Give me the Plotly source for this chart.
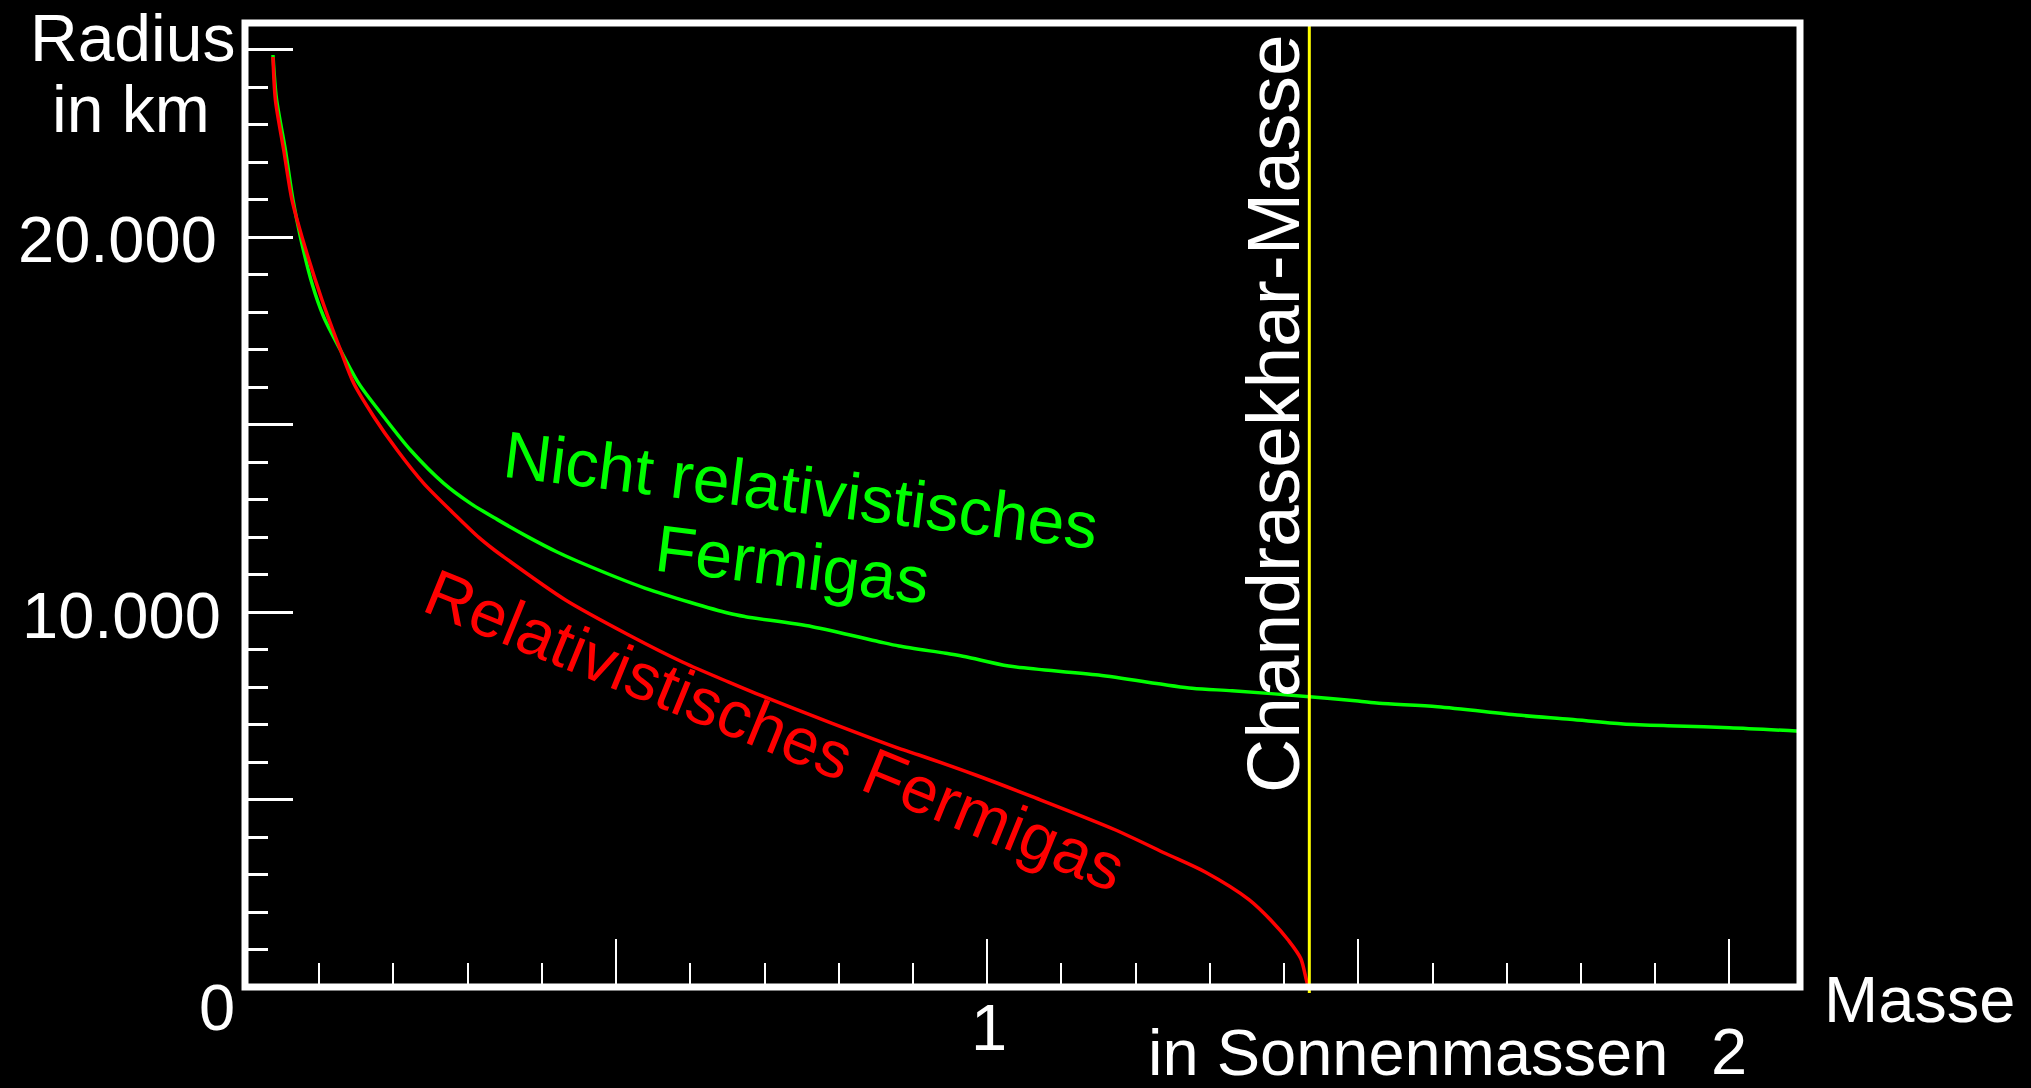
import plotly.graph_objects as go

# White-dwarf mass-radius relation: mass in solar masses, radius in km
nonrel_mass = [0.0377, 0.0423, 0.0544, 0.0647, 0.0747, 0.0903, 0.1061, 0.1286, 0.1532,
               0.1869, 0.2229, 0.2678, 0.3038, 0.3396, 0.3824, 0.4205, 0.4497, 0.5396,
               0.6519, 0.6744, 0.7642, 0.854, 0.881, 0.944, 0.971, 1.029, 1.150, 1.276,
               1.330, 1.434, 1.4996, 1.528, 1.6067, 1.714, 1.7853, 1.857, 1.928, 2.0, 2.095]
nonrel_radius = [24853, 23700, 22320, 20987, 20000, 18760, 17867, 16987, 16098,
                 15208, 14320, 13431, 12898, 12470, 11990, 11600, 11340, 10632,
                 9965, 9875, 9608, 9208, 9093, 8898, 8808, 8560, 8320, 7965,
                 7902, 7742, 7627, 7565, 7475, 7253, 7138, 7013, 6960, 6915, 6820]

rel_mass = [0.0377, 0.041, 0.0522, 0.0633, 0.0768, 0.1038, 0.1286, 0.1465, 0.1735,
            0.2049, 0.2408, 0.2857, 0.315, 0.3329, 0.3464, 0.4318, 0.5171, 0.59,
            0.6519, 0.6879, 0.7911, 0.881, 0.908, 0.9844, 1.0607, 1.173, 1.2404,
            1.2943, 1.3527, 1.3841, 1.4055, 1.4225, 1.4313, 1.434]
rel_radius = [24800, 23653, 22320, 20987, 20000, 18320, 16987, 16098, 15208,
              14320, 13431, 12542, 11990, 11700, 11500, 10320, 9387, 8660,
              8130, 7832, 7032, 6365, 6187, 5653, 5075, 4187, 3560,
              3060, 2330, 1742, 1253, 760, 99, 0]

chandrasekhar_mass = 1.434

x_major_ticks = [0, 0.5, 1, 1.5, 2]
x_minor_ticks = [0.1, 0.2, 0.3, 0.4, 0.6, 0.7, 0.8, 0.9, 1.1, 1.2, 1.3, 1.4,
                 1.6, 1.7, 1.8, 1.9]
y_major_ticks = [0, 5000, 10000, 15000, 20000, 25000]
y_minor_ticks = [1000, 2000, 3000, 4000, 6000, 7000, 8000, 9000, 11000, 12000,
                 13000, 14000, 16000, 17000, 18000, 19000, 21000, 22000, 23000, 24000]

FONT = "Liberation Sans, Arial, Helvetica, sans-serif"
W, H = 2031, 1088
L, R, T, B = 245, 231, 23, 101
PW, PH = W - L - R, H - T - B
X_MAX = PW / 742.2
Y_MAX = PH / 0.0375


def paper(px, py):
    """Pixel position on the page -> paper coordinates."""
    return (px - L) / PW, (H - B - py) / PH


def label(text, px, py, size, color="white", angle=0, xanchor="center"):
    x, y = paper(px, py)
    return dict(text=text, x=x, y=y, xref="paper", yref="paper", showarrow=False,
                xanchor=xanchor, yanchor="middle", textangle=angle,
                font=dict(family=FONT, size=size, color=color))


fig = go.Figure()
fig.add_trace(go.Scatter(x=nonrel_mass, y=nonrel_radius, mode="lines",
                         line=dict(color="#00ff00", width=3.5, shape="spline", smoothing=0.8),
                         hoverinfo="skip"))
fig.add_trace(go.Scatter(x=rel_mass, y=rel_radius, mode="lines",
                         line=dict(color="#ff0000", width=3.5, shape="spline", smoothing=0.8),
                         hoverinfo="skip"))

annotations = [
    label("Radius", 132, 38, 66),
    label("in km", 131, 109, 66),
    label("20.000", 219, 240, 65, xanchor="right"),
    label("10.000", 223, 615, 65, xanchor="right"),
    label("0", 217, 1008, 65),
    label("1", 989, 1027, 65),
    label("2", 1729, 1051, 65),
    label("in Sonnenmassen", 1408, 1052, 65),
    label("Masse", 1919, 999, 65),
    label("Chandrasekhar-Masse", 1273, 414, 75, angle=-90),
    label("Nicht relativistisches", 801, 490, 66, color="#00ff00", angle=7),
    label("Fermigas", 792, 564, 66, color="#00ff00", angle=7),
    label("Relativistisches Fermigas", 775, 730, 66, color="#ff0000", angle=22.2),
]

shapes = [
    # Chandrasekhar limit
    dict(type="line", xref="x", yref="paper", x0=chandrasekhar_mass, x1=chandrasekhar_mass,
         y0=paper(0, 993)[1], y1=1, line=dict(color="#ffff00", width=3), layer="above"),
    # plot frame
    dict(type="rect", xref="paper", yref="paper", x0=0, x1=1, y0=0, y1=1,
         line=dict(color="white", width=7), layer="above"),
]

fig.update_layout(
    width=W, height=H,
    margin=dict(l=L, r=R, t=T, b=B, pad=0),
    paper_bgcolor="black", plot_bgcolor="black",
    showlegend=False,
    annotations=annotations,
    shapes=shapes,
    xaxis=dict(range=[0, X_MAX], showgrid=False, zeroline=False, showline=False,
               tickmode="array", tickvals=x_major_ticks, showticklabels=False,
               ticks="inside", ticklen=48, tickwidth=2, tickcolor="white",
               minor=dict(tickmode="array", tickvals=x_minor_ticks, ticks="inside",
                          ticklen=24, tickwidth=2, tickcolor="white", showgrid=False)),
    yaxis=dict(range=[0, Y_MAX], showgrid=False, zeroline=False, showline=False,
               tickmode="array", tickvals=y_major_ticks, showticklabels=False,
               ticks="inside", ticklen=48, tickwidth=3, tickcolor="white",
               minor=dict(tickmode="array", tickvals=y_minor_ticks, ticks="inside",
                          ticklen=23, tickwidth=3, tickcolor="white", showgrid=False)),
)

fig.write_html("out.html")
